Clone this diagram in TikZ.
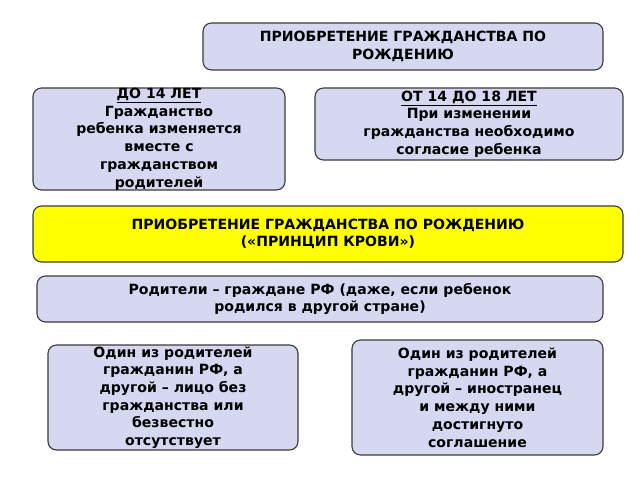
\documentclass[tikz,border=0pt]{standalone}
\usepackage{fontspec}
\setmainfont{DejaVu Sans}
\definecolor{boxfill}{HTML}{D5D8F0}
\definecolor{boxline}{HTML}{3A3A3A}
\definecolor{keyfill}{HTML}{FFFF00}
\tikzset{
  box/.style={draw=boxline,fill=boxfill,line width=0.8pt,rounded corners=6pt},
  txt/.style={font=\bfseries\fontsize{10}{12.6}\selectfont,align=center,inner sep=0pt}
}
\begin{document}
\begin{tikzpicture}[x=0.025cm,y=-0.025cm]
\useasboundingbox (0,0) rectangle (640,480);

% top box
\draw[box] (203,23) rectangle (603,70);
\node[txt] (top) at (403,46.5) {ПРИОБРЕТЕНИЕ ГРАЖДАНСТВА ПО\\РОЖДЕНИЮ};

% age boxes
\draw[box] (33,88) rectangle (285,190);
\node[txt] (young) at (159,139) {\underline{ДО 14 ЛЕТ}\\Гражданство\\ребенка изменяется\\вместе с\\гражданством\\родителей};
\draw[box] (315,88) rectangle (623,160);
\node[txt] (older) at (469,124) {\underline{ОТ 14 ДО 18 ЛЕТ}\\При изменении\\гражданства необходимо\\согласие ребенка};

% key box
\draw[box,fill=keyfill] (33,206) rectangle (623,262);
\node[txt] (blood) at (328,234) {ПРИОБРЕТЕНИЕ ГРАЖДАНСТВА ПО РОЖДЕНИЮ\\(«ПРИНЦИП КРОВИ»)};

% parents
\draw[box] (37,276) rectangle (603,322);
\node[txt] (parents) at (320,299) {Родители – граждане РФ (даже, если ребенок\\родился в другой стране)};

% bottom boxes
\draw[box] (48,345) rectangle (298,450);
\node[txt] (stateless) at (173,397.5) {Один из родителей\\гражданин РФ, а\\другой – лицо без\\гражданства или\\безвестно\\отсутствует};
\draw[box] (352,340) rectangle (603,455);
\node[txt] (foreign) at (477.5,397.5) {Один из родителей\\гражданин РФ, а\\другой – иностранец\\и между ними\\достигнуто\\соглашение};
\end{tikzpicture}
\end{document}
